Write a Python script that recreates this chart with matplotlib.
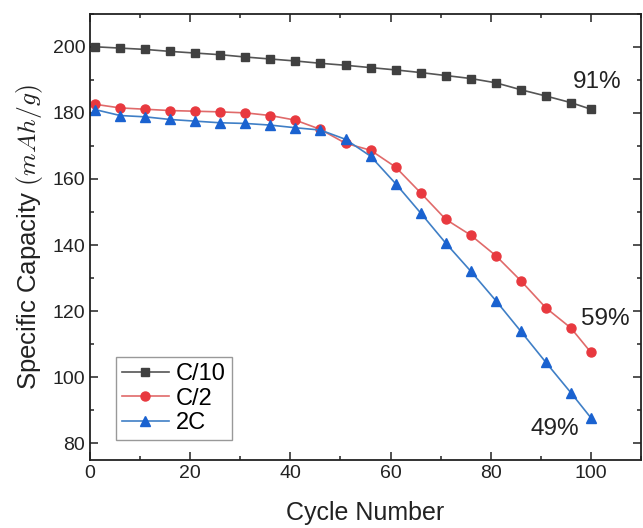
"""Capacidade específica vs. número de ciclos para três taxas de carga."""
import matplotlib

matplotlib.use("Agg")
import matplotlib.pyplot as plt
from matplotlib.ticker import MultipleLocator

plt.rcParams["font.family"] = ["Liberation Sans", "DejaVu Sans"]
plt.rcParams["mathtext.fontset"] = "cm"

# Dados
cycles = [1, 6, 11, 16, 21, 26, 31, 36, 41, 46, 51, 56, 61, 66, 71, 76, 81, 86, 91, 96, 100]
cap_c10 = [200.0, 199.6, 199.2, 198.6, 198.1, 197.6, 196.9, 196.3, 195.7, 195.0, 194.4,
           193.7, 193.0, 192.2, 191.3, 190.4, 189.1, 187.0, 185.1, 183.1, 181.1]
cap_c2 = [182.6, 181.5, 181.1, 180.7, 180.5, 180.3, 180.0, 179.2, 177.8, 175.0, 170.8,
          168.7, 163.6, 155.8, 147.8, 143.0, 136.8, 129.2, 121.0, 114.9, 107.5]
cap_2c = [181.0, 179.2, 178.8, 178.0, 177.5, 177.0, 176.8, 176.3, 175.5, 174.8, 172.0,
          166.9, 158.6, 149.7, 140.6, 132.1, 123.2, 113.9, 104.5, 95.3, 87.7]
retention_labels = ["91%", "59%", "49%"]
retention_pos = [(101.3, 189.4), (102.9, 117.5), (92.8, 84.4)]

fig = plt.figure(figsize=(6.43, 5.28), dpi=100)
ax = fig.add_axes([0.140, 0.129, 0.857, 0.845])

ax.plot(cycles, cap_c10, color="#555555", lw=1.2, marker="s", ms=5.5,
        mfc="#404040", mec="#404040", label="C/10")
ax.plot(cycles, cap_c2, color="#e06a6a", lw=1.2, marker="o", ms=6.5,
        mfc="#e8393f", mec="#e8393f", label="C/2")
ax.plot(cycles, cap_2c, color="#3f7fc6", lw=1.2, marker="^", ms=7,
        mfc="#1a62d0", mec="#1a62d0", label="2C")

for txt, (x, y) in zip(retention_labels, retention_pos):
    ax.text(x, y, txt, fontsize=17.5, ha="center", va="center", color="#222222")

ax.set_xlim(0, 110)
ax.set_ylim(75, 210)
ax.xaxis.set_minor_locator(MultipleLocator(10))
ax.yaxis.set_minor_locator(MultipleLocator(10))
ax.set_xticks([0, 20, 40, 60, 80, 100])
ax.set_yticks([80, 100, 120, 140, 160, 180, 200])
ax.tick_params(which="both", direction="in", top=True, right=True, labelsize=14,
               width=1.1, colors="#222222")
ax.tick_params(which="major", length=6)
ax.tick_params(which="minor", length=3)
for sp in ax.spines.values():
    sp.set_linewidth(1.3)
    sp.set_color("#222222")

ax.set_xlabel("Cycle Number", fontsize=18, color="#222222", labelpad=14)
ax.set_ylabel("Specific Capacity $(mAh/g)$", fontsize=18.5, color="#222222", labelpad=5)

leg = ax.legend(loc="lower left", bbox_to_anchor=(0.047, 0.045), fontsize=17,
                fancybox=False, edgecolor="#999999", framealpha=1,
                handlelength=2.0, handletextpad=0.3, borderpad=0.25,
                labelspacing=0.1, borderaxespad=0)
leg.get_frame().set_linewidth(1.0)

fig.savefig("out.png", dpi=100)
plt.close(fig)
